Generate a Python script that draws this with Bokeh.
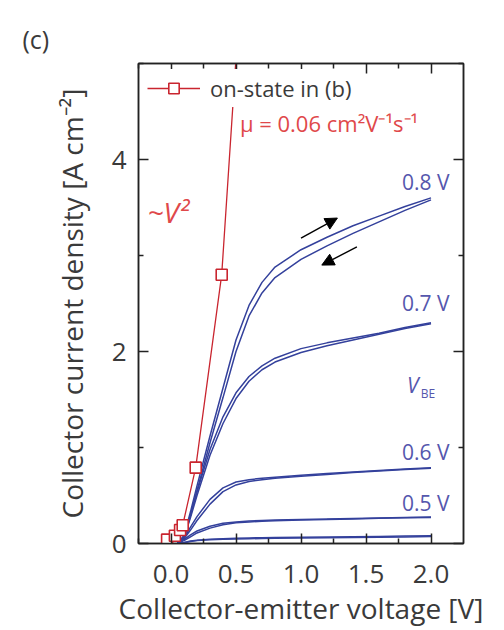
from bokeh.plotting import figure
from bokeh.models import (Range1d, FixedTicker, LinearAxis, Label, Arrow, NormalHead,
                          CustomJSTickFormatter, PrintfTickFormatter, Legend, LegendItem, Title)
from bokeh.embed import file_html
from bokeh.resources import INLINE

# ---------------- data ----------------
x_ticks = [0.0, 0.5, 1.0, 1.5, 2.0]
x_minor = [-0.25, 0.25, 0.75, 1.25, 1.75]
y_ticks = [0, 2, 4]
y_minor = [1, 3, 5]

vce = [0.05, 0.1, 0.15, 0.2, 0.3, 0.4, 0.5, 0.6, 0.7, 0.8, 1.0, 1.2, 1.4, 1.6, 1.8, 2.0]

j08_fwd = [0.0, 0.08, 0.33, 0.60, 1.12, 1.62, 2.12, 2.48, 2.72, 2.88, 3.06, 3.19, 3.31, 3.41, 3.51, 3.60]
j08_rev = [0.0, 0.06, 0.29, 0.55, 1.05, 1.52, 2.00, 2.37, 2.61, 2.77, 2.96, 3.10, 3.23, 3.35, 3.47, 3.58]
j07_fwd = [0.0, 0.08, 0.30, 0.54, 0.98, 1.32, 1.57, 1.74, 1.85, 1.93, 2.03, 2.09, 2.14, 2.19, 2.25, 2.30]
j07_rev = [0.0, 0.06, 0.27, 0.50, 0.92, 1.25, 1.51, 1.69, 1.81, 1.89, 1.99, 2.06, 2.12, 2.18, 2.24, 2.29]
j06_fwd = [0.0, 0.06, 0.17, 0.28, 0.46, 0.58, 0.64, 0.665, 0.68, 0.69, 0.71, 0.73, 0.745, 0.76, 0.775, 0.79]
j06_rev = [0.0, 0.05, 0.14, 0.24, 0.41, 0.54, 0.61, 0.645, 0.665, 0.68, 0.70, 0.72, 0.74, 0.755, 0.77, 0.785]
j05_fwd = [0.0, 0.04, 0.09, 0.13, 0.18, 0.21, 0.225, 0.235, 0.24, 0.245, 0.25, 0.255, 0.26, 0.265, 0.27, 0.275]
j05_rev = [0.0, 0.03, 0.07, 0.11, 0.16, 0.195, 0.215, 0.225, 0.232, 0.238, 0.245, 0.25, 0.256, 0.262, 0.268, 0.272]
j04_fwd = [0.0, 0.01, 0.025, 0.035, 0.045, 0.05, 0.055, 0.058, 0.06, 0.062, 0.065, 0.068, 0.071, 0.074, 0.077, 0.08]
j04_rev = [0.0, 0.008, 0.02, 0.03, 0.038, 0.043, 0.047, 0.05, 0.052, 0.054, 0.057, 0.06, 0.063, 0.066, 0.069, 0.072]

vbe_labels = ["0.8 V", "0.7 V", "0.6 V", "0.5 V"]
vbe_label_x = [1.96, 1.96, 1.96, 1.96]
vbe_label_y = [3.77, 2.51, 0.95, 0.42]

on_v = [-0.03, 0.03, 0.07, 0.09, 0.19, 0.39, 0.59]
on_j = [0.04, 0.08, 0.14, 0.19, 0.79, 2.80, 6.9]

arrow_fwd = [1.00, 3.18, 1.28, 3.39]   # x0, y0, x1, y1
arrow_rev = [1.43, 3.09, 1.16, 2.90]

# ---------------- styles ----------------
FONT = "Open Sans"
BLUE = "#34419c"
BLUE_TXT = "#5557ad"
RED = "#c9252f"
RED_TXT = "#e0484a"
AX = "#222222"
TXT = "#3a3a3a"

p = figure(width=504, height=630, x_range=Range1d(-0.25, 2.25), y_range=Range1d(0, 5),
           toolbar_location=None, output_backend="svg",
           min_border_left=138, min_border_right=41, min_border_top=63, min_border_bottom=87)
p.xgrid.visible = False
p.ygrid.visible = False
p.outline_line_color = AX
p.outline_line_width = 1.5
p.background_fill_color = "white"
p.border_fill_color = "white"

def style_axis(ax, ticks, minor, labels=True):
    ax.ticker = FixedTicker(ticks=ticks, minor_ticks=minor)
    ax.major_tick_in = 10
    ax.major_tick_out = 0
    ax.minor_tick_in = 5
    ax.minor_tick_out = 0
    ax.axis_line_color = AX
    ax.axis_line_width = 1.5
    ax.major_tick_line_color = AX
    ax.major_tick_line_width = 1.5
    ax.minor_tick_line_color = AX
    ax.minor_tick_line_width = 1.5
    ax.major_label_text_font = FONT
    ax.major_label_text_font_size = "26px"
    ax.major_label_text_color = TXT
    ax.axis_label_text_font = FONT
    ax.axis_label_text_font_size = "28px"
    ax.axis_label_text_font_style = "normal"
    ax.axis_label_text_color = TXT
    if not labels:
        ax.formatter = CustomJSTickFormatter(code="return ''")

style_axis(p.xaxis[0], x_ticks, x_minor)
style_axis(p.yaxis[0], y_ticks, y_minor)
p.xaxis[0].formatter = PrintfTickFormatter(format="%.1f")
p.xaxis[0].axis_label = "Collector-emitter voltage [V]"
p.yaxis[0].axis_label = "Collector current density [A cm⁻²]"
p.xaxis[0].major_label_standoff = 21
p.xaxis[0].axis_label_standoff = 3
p.yaxis[0].major_label_standoff = 12
p.yaxis[0].axis_label_standoff = 18
p.yaxis[0].major_label_orientation = "horizontal"

top = LinearAxis()
style_axis(top, x_ticks, x_minor, labels=False)
p.add_layout(top, "above")
right = LinearAxis()
style_axis(right, y_ticks, y_minor, labels=False)
p.add_layout(right, "right")

# title "(c)"
t = Title(text="(c)", align="left", offset=-116, standoff=16,
          text_font=FONT, text_font_size="25px", text_font_style="normal", text_color=TXT)
p.add_layout(t, "above")

# blue curves
for jf, jr in [(j08_fwd, j08_rev), (j07_fwd, j07_rev), (j06_fwd, j06_rev),
               (j05_fwd, j05_rev), (j04_fwd, j04_rev)]:
    p.line(vce, jf, line_color=BLUE, line_width=1.5)
    p.line(vce, jr, line_color=BLUE, line_width=1.5)

for lab, lx, ly in zip(vbe_labels, vbe_label_x, vbe_label_y):
    p.add_layout(Label(x=lx, y=ly, text=lab, text_align="center", text_baseline="middle",
                       text_font=FONT, text_font_size="21px", text_color=BLUE_TXT))

p.add_layout(Label(x=1.86, y=1.65, text="V", text_align="center", text_baseline="middle",
                   text_font=FONT, text_font_size="21px", text_font_style="italic",
                   text_color=BLUE_TXT))
p.add_layout(Label(x=1.86, y=1.65, text="BE", x_offset=8, y_offset=-8, text_align="left",
                   text_baseline="middle", text_font=FONT, text_font_size="12px",
                   text_color=BLUE_TXT))

# arrows
for a in (arrow_fwd, arrow_rev):
    p.add_layout(Arrow(end=NormalHead(size=12, fill_color="black", line_color="black"),
                       x_start=a[0], y_start=a[1], x_end=a[2], y_end=a[3],
                       line_color="black", line_width=1.4))

# red on-state curve
r_line = p.line(on_v, on_j, line_color=RED, line_width=1.3)
r_sc = p.scatter(on_v, on_j, marker="square", size=11, line_color=RED,
                 fill_color="white", line_width=1.6)

p.add_layout(Label(x=-0.18, y=3.45, text="~V²", text_align="left", text_baseline="middle",
                   text_font=FONT, text_font_size="28px", text_font_style="italic",
                   text_color=RED_TXT))
p.add_layout(Label(x=0.53, y=4.38, text="μ = 0.06 cm²V⁻¹s⁻¹", text_align="left",
                   text_baseline="middle", text_font=FONT, text_font_size="22px",
                   text_color=RED_TXT))

legend = Legend(items=[LegendItem(label="on-state in (b)", renderers=[r_line, r_sc])],
                location=(5, 436), padding=4, margin=0, spacing=0,
                glyph_width=53, glyph_height=26, label_standoff=10,
                label_text_font=FONT, label_text_font_size="22px", label_text_color=TXT,
                background_fill_color="white", background_fill_alpha=1.0,
                border_line_alpha=0)
p.add_layout(legend, "center")

open("out.html", "w").write(file_html(p, INLINE))
